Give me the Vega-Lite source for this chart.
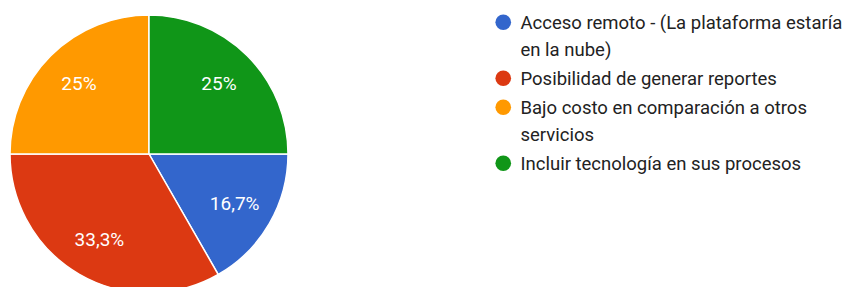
{
  "$schema": "https://vega.github.io/schema/vega-lite/v6.json",
  "width": 298,
  "height": 308,
  "padding": 0,
  "background": "white",
  "config": {"view": {"stroke": null}, "font": "Roboto"},
  "data": {"values": [
    {"cat": "Acceso remoto - (La plataforma estaría en la nube)", "value": 16.7, "label": "16,7%", "o": 2},
    {"cat": "Posibilidad de generar reportes", "value": 33.3, "label": "33,3%", "o": 3},
    {"cat": "Bajo costo en comparación a otros servicios", "value": 25, "label": "25%", "o": 4},
    {"cat": "Incluir tecnología en sus procesos", "value": 25, "label": "25%", "o": 1}
  ]},
  "encoding": {
    "theta": {"field": "value", "type": "quantitative", "stack": true},
    "order": {"field": "o", "type": "quantitative"},
    "color": {
      "field": "cat", "type": "nominal",
      "scale": {
        "domain": ["Acceso remoto - (La plataforma estaría en la nube)", "Posibilidad de generar reportes", "Bajo costo en comparación a otros servicios", "Incluir tecnología en sus procesos"],
        "range": ["#3366cc", "#dc3912", "#ff9900", "#109618"]
      },
      "legend": {
        "title": null,
        "orient": "none",
        "legendX": 494,
        "legendY": 13,
        "padding": 0,
        "symbolType": "circle",
        "symbolSize": 245,
        "symbolStrokeWidth": 0,
        "symbolOpacity": 1,
        "labelFont": "Roboto",
        "labelFontSize": 18.5,
        "labelColor": "#222222",
        "labelOffset": 8,
        "labelLimit": 500,
        "rowPadding": 9,
        "labelExpr": "datum.label == 'Acceso remoto - (La plataforma estaría en la nube)' ? ['Acceso remoto - (La plataforma estaría', 'en la nube)'] : datum.label == 'Bajo costo en comparación a otros servicios' ? ['Bajo costo en comparación a otros', 'servicios'] : datum.label",
        "labelBaseline": "top",
        "encode": {"labels": {"update": {"dy": {"value": -8.5}, "lineHeight": {"value": 27.5}}}}
      }
    }
  },
  "layer": [
    {"mark": {"type": "arc", "outerRadius": 139, "stroke": "white", "strokeWidth": 1.5}},
    {"mark": {"type": "text", "radius": 99, "fill": "white", "fontSize": 19, "font": "Roboto"},
     "encoding": {"text": {"field": "label"}}}
  ]
}
